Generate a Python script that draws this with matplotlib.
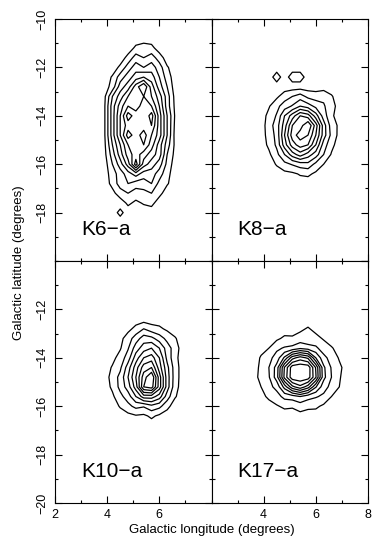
import numpy as np
import matplotlib
matplotlib.use('Agg')
import matplotlib.pyplot as plt
from matplotlib.ticker import MultipleLocator

plt.rcParams['font.family'] = ['Liberation Sans', 'DejaVu Sans']

# contour levels (same for every map)
levels = [0.5, 1.5, 2.5, 3.5, 4.5, 5.5, 6.5, 7.5, 8.5]

# K6-a map (longitude cols x latitude rows)
k6_lon = [3.3, 3.6, 3.9, 4.2, 4.5, 4.8, 5.1, 5.4, 5.7, 6.0, 6.3, 6.6, 6.9, 7.2]
k6_lat = [-10.8, -11.2, -11.6, -12.0, -12.4, -12.8, -13.2, -13.6, -14.0, -14.4,
          -14.8, -15.2, -15.6, -16.0, -16.4, -16.8, -17.2, -17.6, -18.0, -18.4]
k6_map = [
    [0, 0, 0, 0, 0, 0, 0, 0, 0, 0, 0, 0, 0, 0],
    [0, 0, 0, 0, 0, 0, 0.7, 1, 0.8, 0, 0, 0, 0, 0],
    [0, 0, 0, 0, 0, 0.8, 2, 1.5, 2, 1, 0, 0, 0, 0],
    [0, 0, 0, 0, 0.7, 2, 3, 2.5, 3, 2, 0.6, 0, 0, 0],
    [0, 0, 0, 0.6, 2, 3, 4, 4.5, 4, 2.5, 1, 0, 0, 0],
    [0, 0, 0, 0.9, 3, 4, 6, 7.5, 5, 3, 1.5, 0, 0, 0],
    [0, 0, 0.3, 2.5, 4, 5.5, 6, 6.5, 5.5, 4, 2, 0.2, 0, 0],
    [0, 0, 0.4, 3, 5, 6.5, 6, 7, 6.5, 4.5, 2, 0.3, 0, 0],
    [0, 0, 0.4, 3, 5.5, 8, 7, 6.5, 8, 5, 2.5, 0.4, 0, 0],
    [0, 0, 0.4, 3, 5.5, 7, 6.5, 7, 7.5, 5, 2.5, 0.3, 0, 0],
    [0, 0, 0.4, 3, 5.5, 8, 7, 8, 6.5, 5, 2.5, 0.2, 0, 0],
    [0, 0, 0.3, 2.5, 4.5, 6.5, 7, 7.5, 6, 4, 2, 0.3, 0, 0],
    [0, 0, 0.2, 2, 4, 6, 7, 6, 5, 4, 1.5, 0.2, 0, 0],
    [0, 0, 0, 1.5, 3, 5, 8, 5, 4, 3, 1.2, 0, 0, 0],
    [0, 0, 0, 1, 2, 3, 4, 3, 3, 2, 0.8, 0, 0, 0],
    [0, 0, 0, 0.8, 2, 2.5, 2, 2, 2.5, 1.2, 0.6, 0, 0, 0],
    [0, 0, 0, 0.2, 1, 1.5, 1, 1.2, 1.5, 0.8, 0, 0, 0, 0],
    [0, 0, 0, 0, 0, 0.7, 0.3, 0.6, 0.8, 0, 0, 0, 0, 0],
    [0, 0, 0, 0, 0.8, 0, 0, 0, 0, 0, 0, 0, 0, 0],
    [0, 0, 0, 0, 0, 0, 0, 0, 0, 0, 0, 0, 0, 0],
]

# K8-a, K10-a, K17-a share one grid
map_lon = [3.6, 3.9, 4.2, 4.5, 4.8, 5.1, 5.4, 5.7, 6.0, 6.3, 6.6, 6.9, 7.2]
map_lat = [-12.0, -12.4, -12.8, -13.2, -13.6, -14.0, -14.4,
           -14.8, -15.2, -15.6, -16.0, -16.4, -16.8, -17.2]
k8_map = [
    [0, 0, 0, 0, 0, 0, 0, 0, 0, 0, 0, 0, 0],
    [0, 0, 0, 1, 0, 1, 1, 0, 0, 0, 0, 0, 0],
    [0, 0, 0, 0, 0, 0, 0, 0, 0, 0, 0, 0, 0],
    [0, 0, 0, 0.3, 1, 1.5, 2, 1.2, 1, 1.3, 0.6, 0, 0],
    [0, 0, 0.4, 1.2, 2, 2.6, 3.5, 3, 2.2, 1.6, 1, 0, 0],
    [0, 0, 0.8, 1.6, 3.5, 5, 6.5, 6, 4, 2, 0.7, 0, 0],
    [0, 0, 1, 2, 4, 6.5, 7, 8.5, 6, 3, 1, 0.3, 0],
    [0, 0, 0.9, 1.8, 4.5, 7, 8, 7.5, 5.5, 3, 1.2, 0.2, 0],
    [0, 0, 0.7, 1.7, 4, 6, 7, 6.5, 4.5, 2, 0.8, 0, 0],
    [0, 0, 0.3, 1.2, 2.5, 4, 5, 4, 3, 1.5, 0.4, 0, 0],
    [0, 0, 0, 0.6, 1.2, 1.6, 2, 2.2, 1.2, 0.5, 0, 0, 0],
    [0, 0, 0, 0, 0.2, 0.3, 0.6, 0.7, 0.3, 0, 0, 0, 0],
    [0, 0, 0, 0, 0, 0, 0, 0, 0, 0, 0, 0, 0],
    [0, 0, 0, 0, 0, 0, 0, 0, 0, 0, 0, 0, 0],
]
k10_map = [
    [0, 0, 0, 0, 0, 0, 0, 0, 0, 0, 0, 0, 0],
    [0, 0, 0, 0, 0, 0, 0, 0, 0, 0, 0, 0, 0],
    [0, 0, 0, 0, 0.2, 0.8, 1.5, 0.9, 0.7, 0.3, 0, 0, 0],
    [0, 0, 0, 0.2, 1, 2, 3, 2.8, 2, 1.2, 0.6, 0, 0],
    [0, 0, 0, 0.4, 1.4, 3, 4, 4.5, 3.5, 2, 1, 0, 0],
    [0, 0, 0.2, 0.9, 2, 4, 5.5, 6, 4.5, 2.2, 0.8, 0, 0],
    [0, 0, 0.6, 1.3, 3, 5, 7, 7.5, 5, 2.8, 1, 0, 0],
    [0, 0, 0.9, 1.8, 3.5, 5.5, 8, 9.5, 6, 3, 1, 0, 0],
    [0, 0, 0.7, 1.8, 3, 5, 8.5, 9, 6, 3, 0.9, 0, 0],
    [0, 0, 0.3, 1.2, 2, 3.5, 5, 5, 4, 2, 0.6, 0, 0],
    [0, 0, 0, 0.6, 1.2, 1.8, 1.6, 2.2, 1.8, 0.8, 0, 0, 0],
    [0, 0, 0, 0, 0.2, 0.4, 0.3, 0.7, 0.3, 0, 0, 0, 0],
    [0, 0, 0, 0, 0, 0, 0, 0, 0, 0, 0, 0, 0],
    [0, 0, 0, 0, 0, 0, 0, 0, 0, 0, 0, 0, 0],
]
k17_map = [
    [0, 0, 0, 0, 0, 0, 0, 0, 0, 0, 0, 0, 0],
    [0, 0, 0, 0, 0, 0, 0, 0, 0, 0, 0, 0, 0],
    [0, 0, 0, 0, 0, 0.2, 0.3, 0.6, 0.2, 0, 0, 0, 0],
    [0, 0, 0, 0.3, 0.7, 0.6, 0.9, 0.7, 0.8, 0.4, 0, 0, 0],
    [0, 0.2, 0.5, 1.3, 1.6, 1.8, 2.3, 2.0, 1.7, 1.0, 0.6, 0.1, 0],
    [0, 0.6, 1.2, 1.9, 3.7, 6.1, 7.0, 6.3, 3.5, 1.8, 1.1, 0.4, 0],
    [0.1, 0.7, 1.5, 2.9, 6.6, 9.1, 9.3, 9.2, 6.4, 2.7, 1.4, 0.7, 0.1],
    [0.1, 0.8, 1.4, 3.0, 6.8, 9.2, 9.4, 9.1, 6.6, 2.8, 1.5, 0.6, 0],
    [0, 0.5, 1.2, 1.8, 3.9, 6.2, 7.2, 6.0, 3.6, 1.9, 1.2, 0.5, 0],
    [0, 0.2, 0.7, 1.1, 1.8, 2.0, 2.5, 1.9, 1.6, 1.3, 0.5, 0.3, 0],
    [0, 0, 0.1, 0.4, 0.7, 0.6, 0.9, 0.7, 0.7, 0.3, 0, 0, 0],
    [0, 0, 0, 0, 0, 0.1, 0.2, 0.1, 0, 0, 0, 0, 0],
    [0, 0, 0, 0, 0, 0, 0, 0, 0, 0, 0, 0, 0],
    [0, 0, 0, 0, 0, 0, 0, 0, 0, 0, 0, 0, 0],
]

names = ['K6\u2212a', 'K8\u2212a', 'K10\u2212a', 'K17\u2212a']
lons = [k6_lon, map_lon, map_lon, map_lon]
lats = [k6_lat, map_lat, map_lat, map_lat]
maps = [k6_map, k8_map, k10_map, k17_map]

fig, axs = plt.subplots(2, 2, figsize=(3.76, 5.41), dpi=100)
fig.subplots_adjust(left=0.1463, right=0.9787, bottom=0.0702, top=0.9649,
                    wspace=0, hspace=0)

for i, ax in enumerate(axs.flat):
    ax.contour(lons[i], lats[i], np.array(maps[i]), levels=levels,
               colors='black', linewidths=0.9)
    ax.set_xlim(2, 8)
    ax.set_ylim(-20, -10)
    ax.xaxis.set_major_locator(MultipleLocator(2))
    ax.xaxis.set_minor_locator(MultipleLocator(1))
    ax.yaxis.set_major_locator(MultipleLocator(2))
    ax.yaxis.set_minor_locator(MultipleLocator(1))
    ax.tick_params(which='both', direction='in', top=True, right=True,
                   width=0.8, labelsize=9)
    ax.tick_params(which='major', length=5)
    ax.tick_params(which='minor', length=2.5)
    ax.tick_params(axis='y', labelrotation=90, pad=5)
    ax.tick_params(axis='x', pad=4)
    for sp in ax.spines.values():
        sp.set_linewidth(0.8)
    ax.text(3.0, -18.7, names[i], fontsize=15, va='center', ha='left')

    row, col = divmod(i, 2)
    if row == 0:
        ax.tick_params(labelbottom=False)
    if col == 1:
        ax.tick_params(labelleft=False)

axs[0, 0].set_yticks([-10, -12, -14, -16, -18])
axs[1, 0].set_yticks([-12, -14, -16, -18, -20])
axs[1, 0].set_xticks([2, 4, 6])
axs[1, 1].set_xticks([4, 6, 8])
for ax in [axs[0, 0], axs[1, 0]]:
    for lab in ax.get_yticklabels():
        lab.set_va('center')

fig.text(0.05, 0.514, 'Galactic latitude (degrees)', rotation=90,
         ha='center', va='center', fontsize=9.5)
fig.text(0.5638, 0.02, 'Galactic longitude (degrees)',
         ha='center', va='center', fontsize=9.5)

fig.savefig('out.png', dpi=100)
